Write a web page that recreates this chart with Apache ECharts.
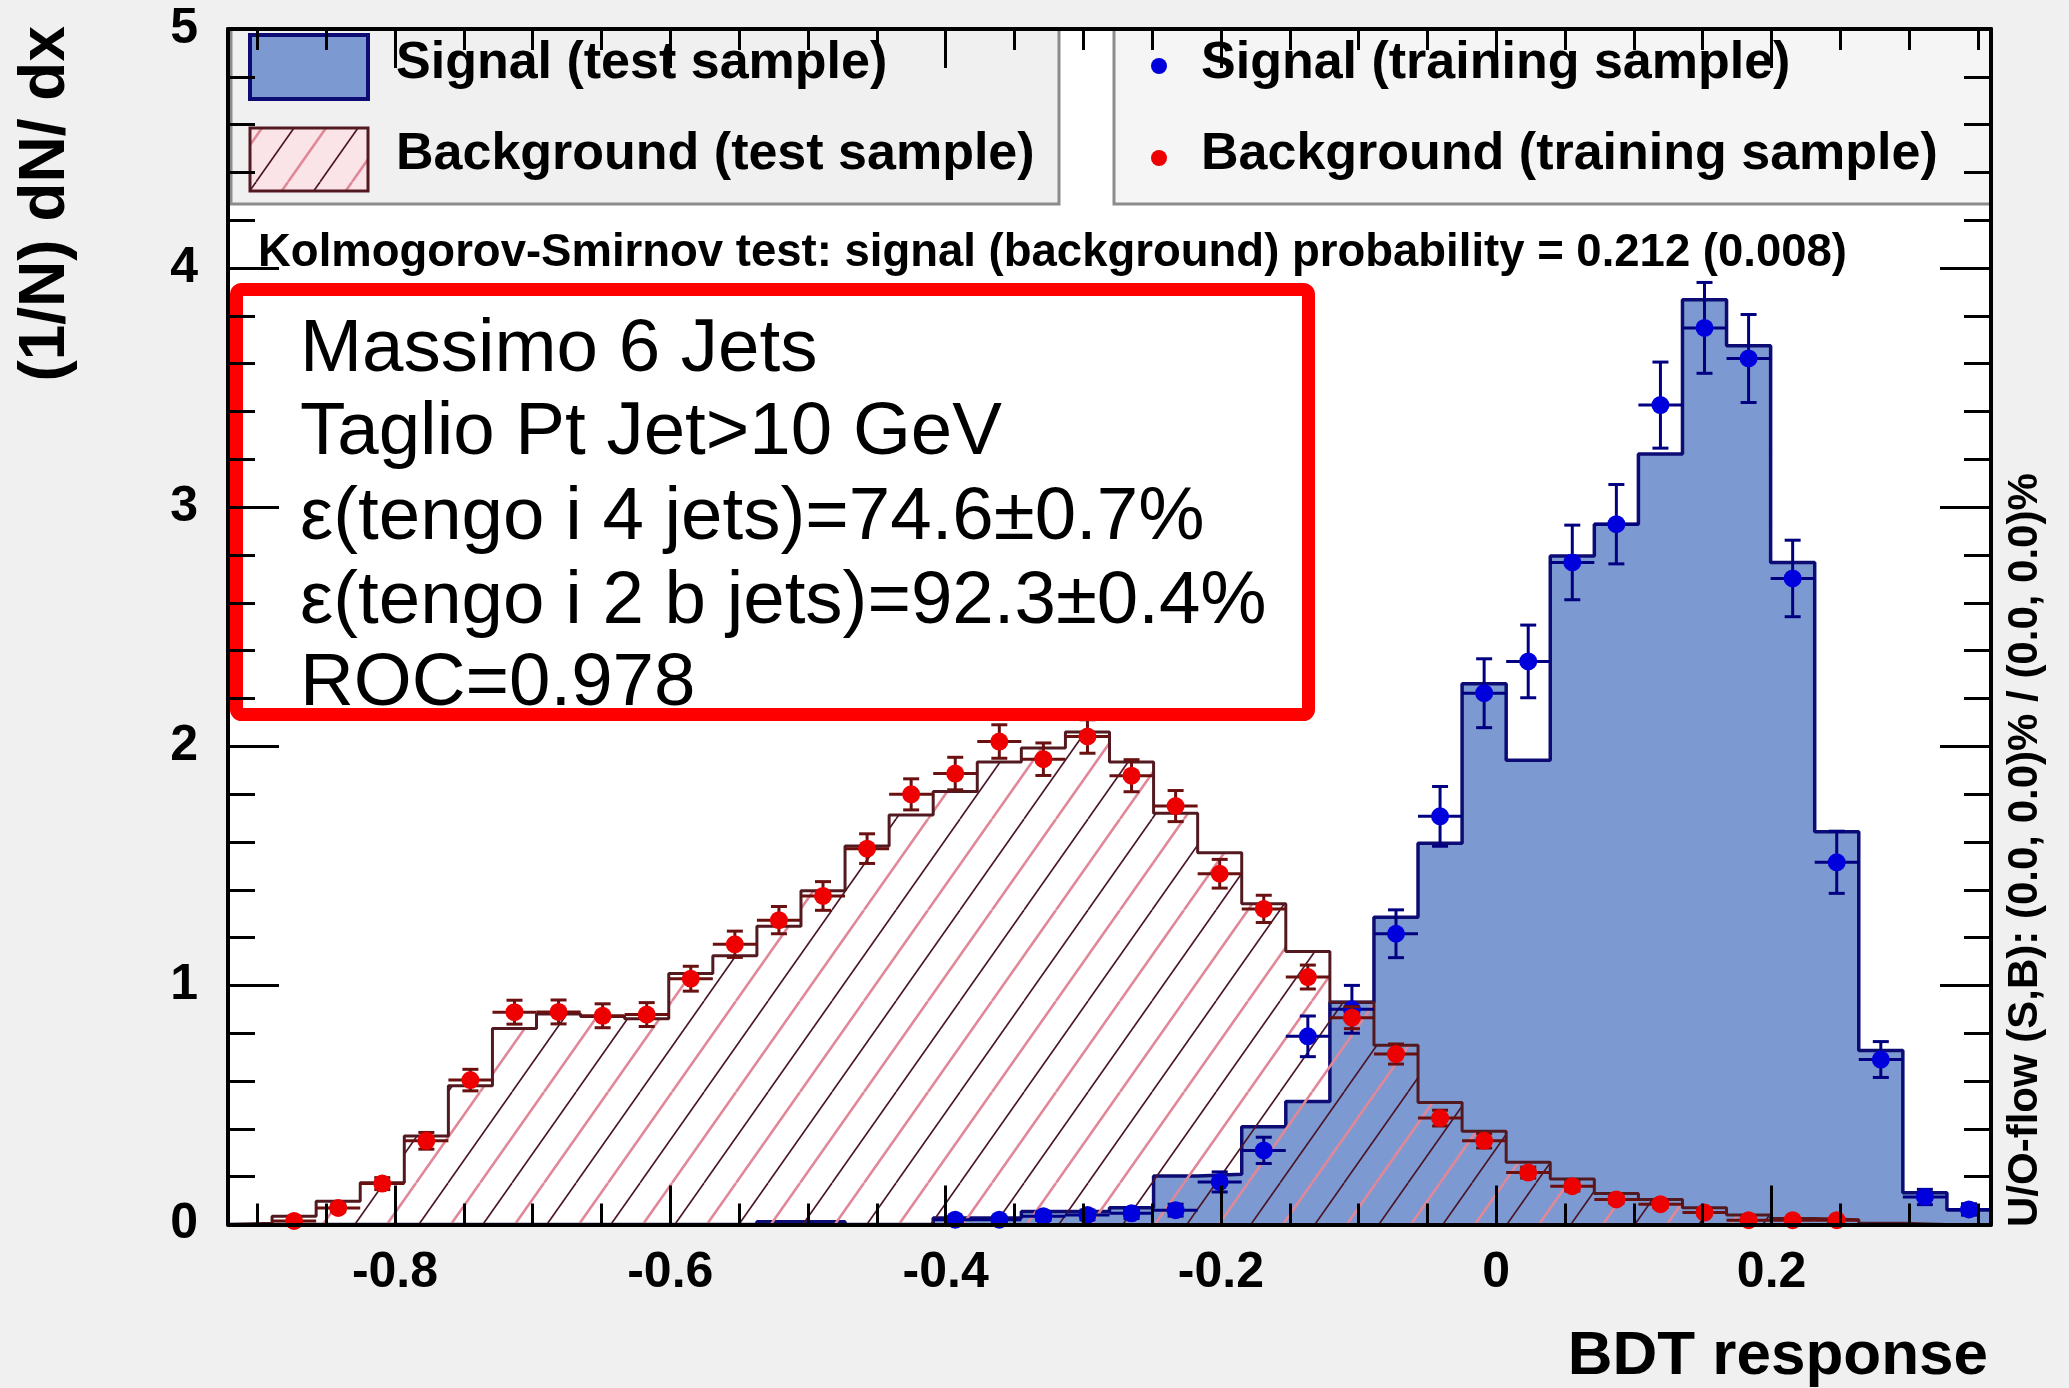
<!DOCTYPE html>
<html>
<head>
<meta charset="utf-8">
<title>BDT response</title>
<script src="https://cdn.jsdelivr.net/npm/echarts@6/dist/echarts.min.js"></script>
<style>
  html, body { margin: 0; padding: 0; background: #f0f0f0; }
  #chart { width: 2069px; height: 1388px; }
</style>
</head>
<body>
<div id="chart"></div>
<script>
// Histogram binning of the BDT output
const X_MIN = -0.9213;
const X_MAX = 0.3594;
const N_BINS = 40;

// Signal (test sample): normalised histogram contents, one per bin
const sigTest = [0, 0, 0, 0, 0, 0, 0, 0, 0, 0,
  0, 0, 0.012, 0.012, 0, 0, 0.027, 0.027, 0.054, 0.054,
  0.07, 0.203, 0.21, 0.409, 0.514, 0.93, 1.285, 1.595, 2.262, 1.942,
  2.796, 2.929, 3.222, 3.868, 3.675, 2.769, 1.643, 0.728, 0.133, 0.061];

// Background (test sample)
const bkgTest = [0.005, 0.035, 0.097, 0.175, 0.37, 0.58, 0.82, 0.88, 0.87, 0.86,
  1.05, 1.124, 1.247, 1.396, 1.583, 1.713, 1.811, 1.934, 1.993, 2.06,
  1.934, 1.72, 1.555, 1.342, 1.142, 0.93, 0.75, 0.51, 0.39, 0.26,
  0.19, 0.13, 0.105, 0.07, 0.04, 0.025, 0.02, 0.005, 0, 0];

// Signal (training sample) points and their statistical errors
const sigTrain = [0, 0, 0, 0, 0, 0, 0, 0, 0, 0,
  0, 0, 0, 0, 0, 0, 0.02, 0.02, 0.035, 0.04,
  0.047, 0.06, 0.178, 0.31, 0.787, 0.9, 1.216, 1.707, 2.222, 2.355,
  2.769, 2.929, 3.427, 3.75, 3.622, 2.702, 1.515, 0.69, 0.115, 0.063];
const sigTrainErr = [0, 0, 0, 0, 0, 0, 0, 0, 0, 0,
  0, 0, 0, 0, 0, 0, 0.014, 0.014, 0.018, 0.02,
  0.022, 0.025, 0.042, 0.055, 0.085, 0.1, 0.1, 0.125, 0.144, 0.152,
  0.156, 0.166, 0.18, 0.19, 0.184, 0.16, 0.13, 0.075, 0.032, 0.024];

// Background (training sample) points and their statistical errors
const bkgTrain = [0, 0.015, 0.069, 0.171, 0.35, 0.604, 0.888, 0.889, 0.873, 0.878,
  1.028, 1.172, 1.273, 1.374, 1.572, 1.799, 1.886, 2.02, 1.946, 2.041,
  1.877, 1.75, 1.467, 1.32, 1.035, 0.865, 0.713, 0.445, 0.35, 0.217,
  0.16, 0.105, 0.085, 0.05, 0.018, 0.018, 0.018, 0, 0, 0];
const bkgTrainErr = [0, 0.008, 0.016, 0.025, 0.035, 0.045, 0.05, 0.05, 0.05, 0.05,
  0.052, 0.055, 0.057, 0.06, 0.062, 0.065, 0.068, 0.07, 0.068, 0.07,
  0.067, 0.065, 0.06, 0.057, 0.05, 0.046, 0.042, 0.033, 0.03, 0.023,
  0.02, 0.016, 0.014, 0.01, 0.007, 0.007, 0.007, 0, 0, 0];

// Axis ticks
const xMajorTicks = [-0.8, -0.6, -0.4, -0.2, 0, 0.2];
const xMinorTicks = [-0.9, -0.85, -0.8, -0.75, -0.7, -0.65, -0.6, -0.55, -0.5, -0.45,
  -0.4, -0.35, -0.3, -0.25, -0.2, -0.15, -0.1, -0.05, 0, 0.05, 0.1, 0.15, 0.2, 0.25, 0.3, 0.35];

// Text
const legendLabels = ['Signal (test sample)', 'Background (test sample)',
  'Signal (training sample)', 'Background (training sample)'];
const ksText = 'Kolmogorov-Smirnov test: signal (background) probability = 0.212 (0.008)';
const infoLines = ['Massimo 6 Jets', 'Taglio Pt Jet>10 GeV',
  'ε(tengo i 4 jets)=74.6±0.7%', 'ε(tengo i 2 b jets)=92.3±0.4%', 'ROC=0.978'];
const yTitle = '(1/N) dN/ dx';
const xTitle = 'BDT response';
const flowText = 'U/O-flow (S,B): (0.0, 0.0)% / (0.0, 0.0)%';

const BIN_W = (X_MAX - X_MIN) / N_BINS;
const FONT = '"Liberation Sans", Arial, Helvetica, sans-serif';

const COL_SIG_FILL = '#7d99d1';
const COL_SIG_LINE = '#0c0c74';
const COL_BKG_LINE = '#521a20';
const COL_SIG_MARK = '#0000dd';
const COL_BKG_MARK = '#ee0000';

// Diagonal hatch tile used for the background histogram
function makeHatch() {
  const W = 64;
  const H = Math.round(W * Math.tan(55 * Math.PI / 180));
  const c = document.createElement('canvas');
  c.width = W; c.height = H;
  const g = c.getContext('2d');
  const draw = (off, color, lw) => {
    g.strokeStyle = color; g.lineWidth = lw;
    for (let k = -1; k <= 1; k++) {
      g.beginPath();
      g.moveTo(off + k * W, H);
      g.lineTo(off + (k + 1) * W, 0);
      g.stroke();
    }
  };
  draw(W / 2, '#e08898', 2.6);
  draw(0, '#4a1426', 1.6);
  return c;
}
const hatch = makeHatch();

// Step outline points: rise at the first edge, flat over each bin, drop at the last edge
function histPoints(values) {
  const pts = [[X_MIN, 0]];
  for (let i = 0; i < values.length; i++) pts.push([X_MIN + i * BIN_W, values[i]]);
  pts.push([X_MAX, values[values.length - 1]]);
  pts.push([X_MAX, 0]);
  return pts;
}

// Points with errors: [centre, value, error, bin low edge, bin high edge]
function pointData(values, errors) {
  const out = [];
  for (let i = 0; i < values.length; i++) {
    if (values[i] <= 0) continue;
    const lo = X_MIN + i * BIN_W;
    out.push([lo + BIN_W / 2, values[i], errors[i], lo, lo + BIN_W]);
  }
  return out;
}

function errorRenderer(markColor, barColor) {
  return function (params, api) {
    const xc = api.value(0), y = api.value(1), e = api.value(2);
    const c = api.coord([xc, y]);
    const top = api.coord([xc, y + e]);
    const bot = api.coord([xc, Math.max(0, y - e)]);
    const l = api.coord([api.value(3), y]);
    const r = api.coord([api.value(4), y]);
    const ls = { stroke: barColor, lineWidth: 3 };
    const cap = 8;
    return {
      type: 'group',
      children: [
        { type: 'line', shape: { x1: l[0], y1: c[1], x2: r[0], y2: c[1] }, style: ls },
        { type: 'line', shape: { x1: c[0], y1: top[1], x2: c[0], y2: bot[1] }, style: ls },
        { type: 'line', shape: { x1: c[0] - cap, y1: top[1], x2: c[0] + cap, y2: top[1] }, style: ls },
        { type: 'line', shape: { x1: c[0] - cap, y1: bot[1], x2: c[0] + cap, y2: bot[1] }, style: ls },
        { type: 'circle', shape: { cx: c[0], cy: c[1], r: 9 }, style: { fill: markColor } }
      ]
    };
  };
}

function xAxisDef(position, ticks, length, showLine, showLabel) {
  return {
    type: 'value', position: position, min: X_MIN, max: X_MAX, z: 10,
    splitLine: { show: false },
    axisLine: { show: showLine, onZero: false, lineStyle: { color: '#000', width: 4 } },
    axisTick: { show: true, inside: true, length: length, customValues: ticks,
      lineStyle: { color: '#000', width: 3 } },
    axisLabel: showLabel ? {
      show: true, customValues: ticks, margin: 24, color: '#000',
      fontFamily: FONT, fontWeight: 'bold', fontSize: 50,
      formatter: v => String(v)
    } : { show: false }
  };
}

function yAxisDef(position, showLabel) {
  return {
    type: 'value', position: position, min: 0, max: 5, interval: 1, z: 10,
    splitLine: { show: false },
    axisLine: { show: true, onZero: false, lineStyle: { color: '#000', width: 4 } },
    axisTick: { show: true, inside: true, length: 51, lineStyle: { color: '#000', width: 3 } },
    minorTick: { show: true, splitNumber: 5, length: 27, lineStyle: { color: '#000', width: 3 } },
    axisLabel: showLabel ? {
      show: true, margin: 30, color: '#000', padding: [10, 0, 0, 0],
      fontFamily: FONT, fontWeight: 'bold', fontSize: 50
    } : { show: false }
  };
}

function text(str, x, y, font, align, z, extra) {
  return Object.assign({
    type: 'text', x: x, y: y, z: z || 8,
    style: { text: str, x: 0, y: 0, font: font, fill: '#000',
      textAlign: align || 'left', textVerticalAlign: 'middle' }
  }, extra || {});
}

const legendFont = 'bold 52px ' + FONT;

const graphics = [
  // legend boxes
  { type: 'rect', z: 6, shape: { x: 231, y: 29, width: 828, height: 175 },
    style: { fill: '#f0f0f0', stroke: '#8c8c8c', lineWidth: 3 } },
  { type: 'rect', z: 6, shape: { x: 1114, y: 29, width: 877, height: 175 },
    style: { fill: '#f5f5f5', stroke: '#8c8c8c', lineWidth: 3 } },
  { type: 'rect', z: 7, shape: { x: 250, y: 35, width: 118, height: 64 },
    style: { fill: COL_SIG_FILL, stroke: COL_SIG_LINE, lineWidth: 4 } },
  { type: 'rect', z: 7, shape: { x: 250, y: 128, width: 118, height: 63 },
    style: { fill: '#fbe4e8' } },
  { type: 'rect', z: 7, shape: { x: 250, y: 128, width: 118, height: 63 },
    style: { fill: { image: hatch, repeat: 'repeat' }, stroke: COL_BKG_LINE, lineWidth: 3 } },
  { type: 'circle', z: 7, shape: { cx: 1159, cy: 66, r: 8 }, style: { fill: COL_SIG_MARK } },
  { type: 'circle', z: 7, shape: { cx: 1159, cy: 158, r: 8 }, style: { fill: COL_BKG_MARK } },
  text(legendLabels[0], 396, 64, legendFont),
  text(legendLabels[1], 396, 155, legendFont),
  text(legendLabels[2], 1201, 64, legendFont),
  text(legendLabels[3], 1201, 155, legendFont),
  // KS line
  text(ksText, 258, 253, 'bold 45.5px ' + FONT),
  // info box
  { type: 'rect', z: 6, shape: { x: 236.5, y: 289.5, width: 1072, height: 425, r: 5 },
    style: { fill: '#ffffff', stroke: '#ff0000', lineWidth: 13 } },
  // axis titles
  text(yTitle, 46, 26, 'bold 64px ' + FONT, 'right', 8, { rotation: Math.PI / 2 }),
  text(xTitle, 1988, 1357, 'bold 62px ' + FONT, 'right'),
  text(flowText, 2025, 1227, 'bold 42px ' + FONT, 'left', 8, { rotation: Math.PI / 2 })
];
const infoY = [350, 433, 518, 602, 684];
infoLines.forEach((s, i) => graphics.push(text(s, 300, infoY[i], '74.5px ' + FONT)));

const chart = echarts.init(document.getElementById('chart'), null, { renderer: 'canvas' });
chart.setOption({
  backgroundColor: '#f0f0f0',
  animation: false,
  grid: { left: 228, top: 29, right: 78, bottom: 163.5, show: true,
    backgroundColor: '#ffffff', borderWidth: 0 },
  xAxis: [
    xAxisDef('bottom', xMajorTicks, 39, true, true),
    xAxisDef('bottom', xMinorTicks, 21, false, false),
    xAxisDef('top', xMajorTicks, 39, true, false),
    xAxisDef('top', xMinorTicks, 21, false, false)
  ],
  yAxis: [yAxisDef('left', true), yAxisDef('right', false)],
  series: [
    { name: 'Signal (test sample)', type: 'line', step: 'end', z: 2,
      data: histPoints(sigTest), symbol: 'none', clip: true,
      lineStyle: { color: COL_SIG_LINE, width: 3.5 },
      areaStyle: { color: COL_SIG_FILL, opacity: 1 } },
    { name: 'Background (test sample)', type: 'line', step: 'end', z: 3,
      data: histPoints(bkgTest), symbol: 'none', clip: true,
      lineStyle: { color: COL_BKG_LINE, width: 3 },
      areaStyle: { color: { image: hatch, repeat: 'repeat' }, opacity: 1 } },
    { name: 'Signal (training sample)', type: 'custom', z: 4,
      renderItem: errorRenderer(COL_SIG_MARK, '#000080'),
      encode: { x: [0, 3, 4], y: 1 },
      data: pointData(sigTrain, sigTrainErr) },
    { name: 'Background (training sample)', type: 'custom', z: 4,
      renderItem: errorRenderer(COL_BKG_MARK, '#6a1010'),
      encode: { x: [0, 3, 4], y: 1 },
      data: pointData(bkgTrain, bkgTrainErr) }
  ],
  graphic: { elements: graphics }
});
</script>
</body>
</html>
